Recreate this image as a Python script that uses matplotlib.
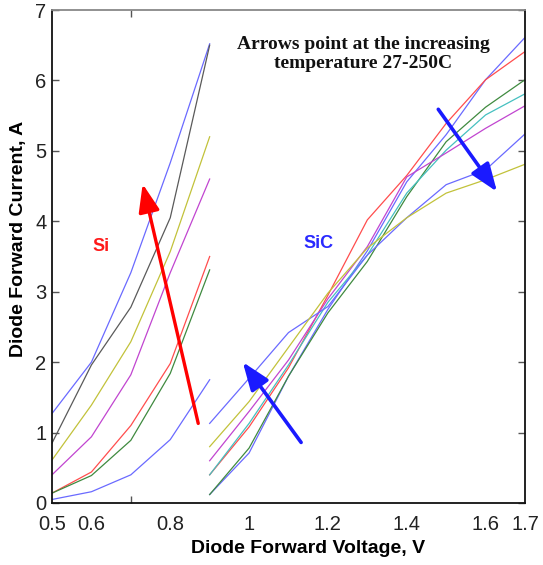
import matplotlib
matplotlib.use("Agg")
import matplotlib.pyplot as plt

# Si diode curves, 0.5 .. 0.9 V
v_si = [0.5, 0.6, 0.7, 0.8, 0.9]
si_blue_top = [1.27, 2.0, 3.27, 4.83, 6.52]
si_black = [0.85, 1.96, 2.78, 4.05, 6.50]
si_yellow = [0.61, 1.39, 2.29, 3.57, 5.20]
si_magenta = [0.40, 0.94, 1.82, 3.27, 4.60]
si_red = [0.14, 0.44, 1.10, 1.98, 3.50]
si_green = [0.14, 0.39, 0.89, 1.84, 3.31]
si_blue_low = [0.05, 0.16, 0.40, 0.90, 1.75]

# SiC diode curves, 0.9 .. 1.7 V
v_sic = [0.9, 1.0, 1.1, 1.2, 1.3, 1.4, 1.5, 1.6, 1.7]
sic_blue = [0.12, 0.71, 1.80, 2.75, 3.58, 4.56, 5.23, 6.01, 6.61]
sic_red = [0.40, 1.08, 1.92, 2.95, 4.02, 4.65, 5.39, 6.01, 6.41]
sic_green = [0.12, 0.78, 1.80, 2.70, 3.43, 4.35, 5.13, 5.62, 6.01]
sic_cyan = [0.40, 1.13, 1.96, 2.85, 3.52, 4.40, 5.01, 5.51, 5.81]
sic_magenta = [0.60, 1.30, 2.03, 2.90, 3.64, 4.63, 4.97, 5.32, 5.64]
sic_blue2 = [1.13, 1.77, 2.42, 2.79, 3.52, 4.05, 4.52, 4.73, 5.24]
sic_yellow = [0.80, 1.44, 2.21, 2.98, 3.62, 4.05, 4.40, 4.59, 4.81]

xtick_pos = [0.5, 0.6, 0.8, 1.0, 1.2, 1.4, 1.6, 1.7]
xtick_lab = ["0.5", "0.6", "0.8", "1", "1.2", "1.4", "1.6", "1.7"]
xtick_marks = [0.7, 0.8, 1.0, 1.2, 1.4, 1.6]

BLUE = "#6a6aff"
RED = "#ff4d4d"
GREEN = "#3f8a3f"
CYAN = "#45c0c0"
MAGENTA = "#c145d0"
YELLOW = "#c2c23a"
BLACK = "#5a5a5a"

plt.rcParams['font.family'] = ['Liberation Sans', 'DejaVu Sans']

fig = plt.figure(figsize=(5.43, 5.65), dpi=100)
ax = fig.add_axes([52/543, 62/565, 473/543, 493/565])

lw = 0.9
for y, c in [(si_blue_top, BLUE), (si_black, BLACK), (si_yellow, YELLOW),
             (si_magenta, MAGENTA), (si_red, RED), (si_green, GREEN),
             (si_blue_low, BLUE)]:
    ax.plot(v_si, y, color=c, lw=lw)

for y, c in [(sic_blue, BLUE), (sic_red, RED), (sic_green, GREEN),
             (sic_cyan, CYAN), (sic_magenta, MAGENTA), (sic_blue2, BLUE),
             (sic_yellow, YELLOW)]:
    ax.plot(v_sic, y, color=c, lw=lw)

# temperature arrows
astyle = "-|>,head_length=0.85,head_width=0.32"
ax.annotate("", xy=(0.730, 4.53), xytext=(0.871, 1.13),
            arrowprops=dict(arrowstyle=astyle, color="#ff0000", lw=2.4,
                            mutation_scale=20, shrinkA=0, shrinkB=0))
ax.annotate("", xy=(0.984, 2.0), xytext=(1.132, 0.86),
            arrowprops=dict(arrowstyle=astyle, color="#1a1aff", lw=2.6,
                            mutation_scale=20, shrinkA=0, shrinkB=0))
ax.annotate("", xy=(1.629, 4.42), xytext=(1.480, 5.59),
            arrowprops=dict(arrowstyle=astyle, color="#1a1aff", lw=2.6,
                            mutation_scale=20, shrinkA=0, shrinkB=0))

ax.text(0.624, 3.64, "Si", color="#ff1a1a", fontsize=13, fontweight="bold",
        ha="center", va="center")
ax.text(1.175, 3.69, "SiC", color="#2a2aff", fontsize=13, fontweight="bold",
        ha="center", va="center")
ax.text(1.289, 6.38, "Arrows point at the increasing\ntemperature 27-250C",
        family="Liberation Serif", fontweight="bold", fontsize=14,
        ha="center", va="center", linespacing=1.15, color="#111111")

ax.set_xlim(0.5, 1.7)
ax.set_ylim(0, 7)

ax.set_xticks(xtick_pos)
ax.set_xticklabels(xtick_lab)
ax.set_xticks(xtick_marks, minor=True)
ax.tick_params(axis="x", which="major", length=0, pad=9, labelsize=14.5,
               labelcolor="#222222")
ax.tick_params(axis="x", which="minor", direction="in", length=5, width=1,
               top=True, bottom=True, color="#555555")
ax.set_yticks(range(8))
ax.tick_params(axis="y", which="major", direction="in", length=5, width=1,
               left=True, right=True, pad=4, labelsize=14.5,
               labelcolor="#222222", color="#555555")

for s in ["left", "bottom", "right"]:
    ax.spines[s].set_linewidth(1.3)
    ax.spines[s].set_color("#111111")
ax.spines["top"].set_color("#888888")
ax.spines["top"].set_linewidth(1.3)

ax.set_xlabel("Diode Forward Voltage, V", fontsize=14, fontweight="bold")
ax.set_ylabel("Diode Forward Current, A", fontsize=14, fontweight="bold")
ax.xaxis.set_label_coords(0.541, -0.075)
ax.yaxis.set_label_coords(-0.053, 0.535)

fig.savefig("out.png", dpi=100)
